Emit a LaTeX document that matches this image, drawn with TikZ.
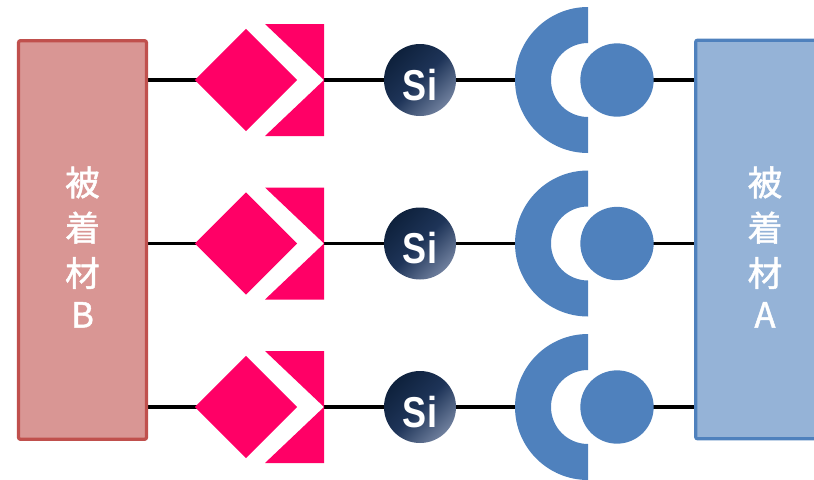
\documentclass[tikz,border=0pt]{standalone}
\usepackage{fontspec}
\setmainfont{Liberation Sans}
\newfontfamily\cjk[FakeBold=1.4]{Noto Sans CJK JP}
\usetikzlibrary{shapes.geometric}
\pgfdeclarelayer{bg}
\pgfsetlayers{bg,main}

\definecolor{hotpink}{RGB}{255,0,102}
\definecolor{steel}{RGB}{79,129,189}
\definecolor{roseFill}{RGB}{217,150,148}
\definecolor{roseEdge}{RGB}{192,80,77}
\definecolor{skyFill}{RGB}{149,179,215}
\definecolor{siDark}{RGB}{14,33,60}
\definecolor{siMid}{RGB}{30,52,88}
\definecolor{siLight}{RGB}{112,128,158}

\tikzset{
  wire/.style={draw=black, line width=2.9pt},
  boxB/.style={rectangle, rounded corners=1.5pt, draw=roseEdge, fill=roseFill,
    line width=2.4pt, minimum width=96pt, minimum height=299pt, inner sep=0pt},
  boxA/.style={rectangle, rounded corners=1.5pt, draw=steel, fill=skyFill,
    line width=2.4pt, minimum width=104pt, minimum height=299pt, inner sep=0pt},
  boxtext/.style={text=white, align=center, font=\cjk\fontsize{26pt}{34pt}\selectfont},
  diam/.style={diamond, aspect=1, fill=hotpink, minimum width=77pt, minimum height=77pt, inner sep=0pt},
  siball/.style={circle, minimum size=54pt, inner sep=0pt,
    top color=siDark, bottom color=siLight, middle color=siMid, shading angle=45},
  sitext/.style={text=white, inner sep=0pt, font=\bfseries\fontsize{27pt}{30pt}\selectfont},
  disc/.style={circle, fill=steel, minimum size=55pt, inner sep=0pt},
}

\begin{document}
\begin{tikzpicture}[x=0.75pt, y=-0.75pt]
\useasboundingbox (0,0) rectangle (814,479);
\clip (0,0) rectangle (814,479);

% substrates
\node[boxB] (B) at (82.5,240) {};
\node[boxA] (A) at (765,239.5) {};
\node[boxtext] (tB) at (82.5,247) {被\\着\\材\\[-3pt]B};
\node[boxtext] (tA) at (765,247) {被\\着\\材\\[-3pt]A};

\foreach \i/\y in {1/80,2/243.5,3/407}{
  % pink diamond and notched block
  \node[diam] (d\i) at (246,\y) {};
  \fill[hotpink] (265,\y-56) -- (324,\y-56) -- (324,\y+56) -- (265,\y+56)
     -- (324,\y) coordinate (v\i) -- cycle;
  % silicon atom
  \node[siball] (s\i) at (420,\y) {};
  \node[sitext] (sl\i) at (420,\y+5) {\scalebox{1}[1.2]{Si}};
  % blue half ring and disc
  \fill[steel] (588,\y-73) arc (270:90:73) -- (588,\y+37) arc (90:270:37) -- cycle;
  \coordinate (c\i) at (515,\y);
  \node[disc] (o\i) at (617,\y) {};
  % bonds
  \begin{pgfonlayer}{bg}
    \draw[wire] (B.center |- d\i.center) -- (d\i.center);
    \draw[wire] (v\i) -- (s\i.center);
    \draw[wire] (s\i.center) -- (c\i);
    \draw[wire] (o\i.center) -- (A.center |- o\i.center);
  \end{pgfonlayer}
}
\end{tikzpicture}
\end{document}
